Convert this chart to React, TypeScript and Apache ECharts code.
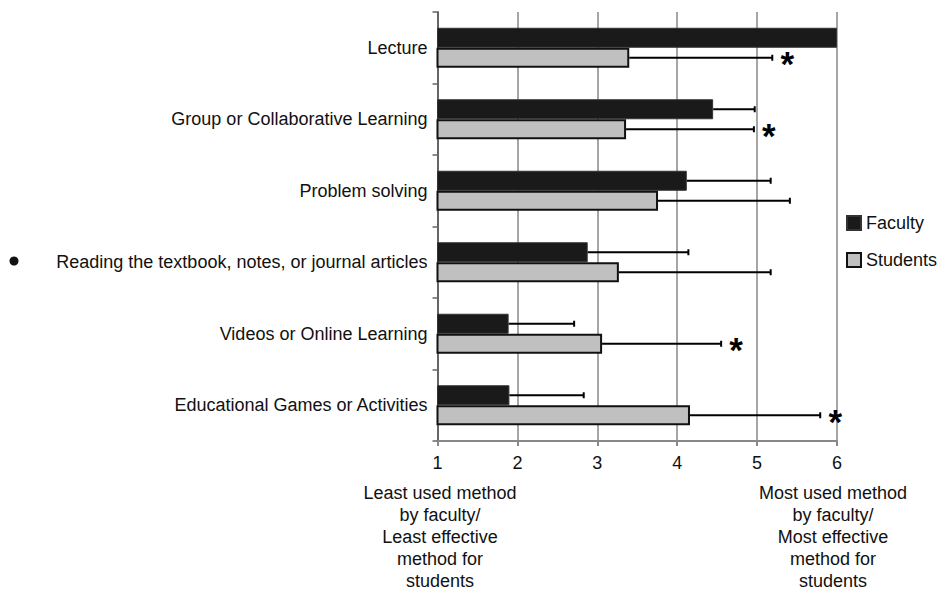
import React, { useEffect, useRef } from "react";
import * as echarts from "echarts";

const categories = [
  "Lecture",
  "Group or Collaborative Learning",
  "Problem solving",
  "Reading the textbook, notes, or journal articles",
  "Videos or Online Learning",
  "Educational Games or Activities",
];
const facultyMeans = [6.0, 4.45, 4.12, 2.88, 1.89, 1.9];
const facultyErrorEnds: (number | null)[] = [null, 4.97, 5.17, 4.14, 2.71, 2.83];
const studentMeans = [3.4, 3.36, 3.76, 3.27, 3.06, 4.16];
const studentErrorEnds: (number | null)[] = [5.19, 4.96, 5.41, 5.17, 4.55, 5.79];
const studentSignificant = [true, true, false, false, true, true];
const xTicks = [1, 2, 3, 4, 5, 6];
const leftNote = ["Least used method", "by faculty/", "Least effective", "method for", "students"];
const rightNote = ["Most used method", "by faculty/", "Most effective", "method for", "students"];

const FONT = "'Liberation Sans', Arial, sans-serif";
const FS = 18;
const BAR_W = 20;

function errorSeries(name: string, means: number[], ends: (number | null)[], offset: number, stars?: boolean[]) {
  const data: any[] = [];
  means.forEach((m, i) => {
    if (ends[i] != null) data.push([m, ends[i] as number, i, stars && stars[i] ? 1 : 0]);
  });
  return {
    type: "custom",
    name,
    clip: false,
    z: 5,
    encode: { x: [0, 1], y: 2 },
    data,
    renderItem: (params: any, api: any) => {
      const catIdx = api.value(2);
      const s = api.coord([api.value(0), catIdx]);
      const e = api.coord([api.value(1), catIdx]);
      const y = s[1] + offset;
      const children: any[] = [
        { type: "line", shape: { x1: s[0], y1: y, x2: e[0], y2: y }, style: { stroke: "#000", lineWidth: 2 } },
        { type: "line", shape: { x1: e[0], y1: y - 3, x2: e[0], y2: y + 3 }, style: { stroke: "#000", lineWidth: 2 } },
      ];
      if (api.value(3) === 1) {
        children.push({
          type: "text",
          x: e[0] + 15,
          y: y + 6,
          style: {
            text: "*",
            fontSize: 35,
            fontWeight: "bold",
            fontFamily: FONT,
            fill: "#000",
            align: "center",
            verticalAlign: "middle",
          },
        });
      }
      return { type: "group", children };
    },
  };
}

export default function App() {
  const ref = useRef<HTMLDivElement>(null);
  useEffect(() => {
    if (!ref.current) return;
    const chart = echarts.init(ref.current, null, { renderer: "svg" });
    const noteText = (lines: string[], cx: number) => ({
      type: "text",
      x: cx,
      y: 482,
      style: {
        text: lines.join("\n"),
        fontSize: FS,
        lineHeight: 22,
        fontFamily: FONT,
        fill: "#111",
        align: "center",
        verticalAlign: "top",
      },
    });
    chart.setOption({
      animation: false,
      backgroundColor: "#fff",
      textStyle: { fontFamily: FONT },
      grid: { left: 437.5, right: 100, top: 12, bottom: 151, containLabel: false },
      legend: {
        orient: "vertical",
        left: 846,
        top: 214,
        padding: 0,
        itemWidth: 14,
        itemHeight: 14,
        itemGap: 19,
        icon: "rect",
        data: ["Faculty", "Students"],
        textStyle: { fontSize: FS, color: "#111", fontFamily: FONT },
      },
      xAxis: {
        type: "value",
        min: 1,
        max: 6,
        interval: 1,
        axisLine: { show: true, lineStyle: { color: "#888", width: 2 } },
        axisTick: { show: true, length: 5, lineStyle: { color: "#888", width: 2 } },
        axisLabel: {
          margin: 13,
          fontSize: FS,
          color: "#111",
          fontFamily: FONT,
          formatter: (v: number) => (xTicks.includes(v) ? String(v) : ""),
        },
        splitLine: { show: true, lineStyle: { color: "#888", width: 1.5 } },
      },
      yAxis: {
        type: "category",
        inverse: true,
        data: categories,
        axisLine: { show: true, lineStyle: { color: "#666", width: 2 } },
        axisTick: { show: true, length: 5, lineStyle: { color: "#666", width: 1.5 } },
        axisLabel: { margin: 10, fontSize: FS, color: "#111", fontFamily: FONT },
      },
      series: [
        {
          type: "bar",
          name: "Faculty",
          data: facultyMeans,
          barWidth: BAR_W,
          barGap: "0%",
          clip: true,
          itemStyle: { color: "#1a1a1a", borderColor: "#333", borderWidth: 1 },
        },
        {
          type: "bar",
          name: "Students",
          data: studentMeans,
          barWidth: BAR_W,
          barGap: "0%",
          clip: true,
          itemStyle: { color: "#c0c0c0", borderColor: "#111", borderWidth: 2 },
        },
        errorSeries("Faculty error", facultyMeans, facultyErrorEnds, -10),
        errorSeries("Students error", studentMeans, studentErrorEnds, 10, studentSignificant),
      ],
      graphic: [
        { type: "circle", shape: { cx: 14, cy: 261, r: 4.5 }, style: { fill: "#111" } },
        noteText(leftNote, 440),
        noteText(rightNote, 833),
      ],
    });
    return () => chart.dispose();
  }, []);
  return <div ref={ref} style={{ width: 937, height: 592, position: "absolute", left: 0, top: 0 }} />;
}
